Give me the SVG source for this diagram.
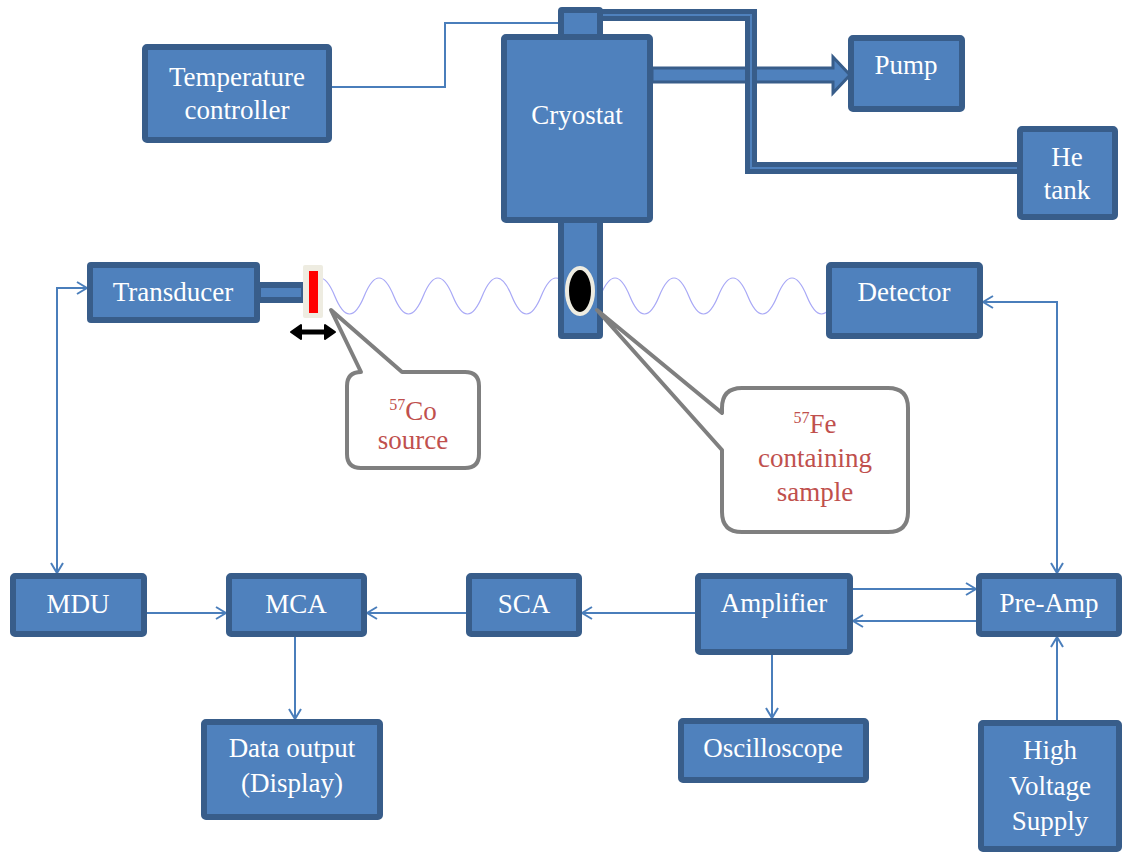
<svg xmlns="http://www.w3.org/2000/svg" width="1126" height="854" viewBox="0 0 1126 854">
<style>
.box{fill:#4F81BD;stroke:#385D8A;stroke-width:6;}
.lbl{font-family:"Liberation Serif","Times New Roman",serif;font-size:27px;fill:#FFFFFF;text-anchor:middle;}
.call{fill:#FFFFFF;stroke:#7F7F7F;stroke-width:4;stroke-linejoin:round;}
.ctxt{font-family:"Liberation Serif","Times New Roman",serif;font-size:27px;fill:#C0504D;text-anchor:middle;}
.con{fill:none;stroke:#4A7EBB;stroke-width:2;}
</style>
<defs>
<marker id="arr" markerUnits="userSpaceOnUse" viewBox="0 0 12 14" refX="11" refY="7" markerWidth="12" markerHeight="14" orient="auto-start-reverse">
<path d="M1,1 L11,7 L1,13" fill="none" stroke="#4A7EBB" stroke-width="2"/>
</marker>
</defs>
<rect width="1126" height="854" fill="#FFFFFF"/>

<!-- gamma wave -->
<path id="wave" d="M305.25,296 Q320,260 334.75,296 T364.25,296 T393.75,296 T423.25,296 T452.75,296 T482.25,296 T511.75,296 T541.25,296 T570.75,296 T600.25,296 T629.75,296 T659.25,296 T688.75,296 T718.25,296 T747.75,296 T777.25,296 T806.75,296 T836.25,296" fill="none" stroke="#A8A8F6" stroke-width="1.2"/>

<g id="connectors">
<path class="con" d="M332,87 H445 V23 H558" stroke-width="1.5"/>
<path class="con" d="M87,288 H57 V573" marker-start="url(#arr)" marker-end="url(#arr)"/>
<path class="con" d="M983,302 H1057 V573" marker-start="url(#arr)" marker-end="url(#arr)"/>
<path class="con" d="M147,613 H226" marker-end="url(#arr)"/>
<path class="con" d="M466,613 H367" marker-end="url(#arr)"/>
<path class="con" d="M695,613 H582" marker-end="url(#arr)"/>
<path class="con" d="M853,589 H976" marker-end="url(#arr)"/>
<path class="con" d="M976,621 H853" marker-end="url(#arr)"/>
<path class="con" d="M772,655 V718" marker-end="url(#arr)"/>
<path class="con" d="M1057,720 V637" marker-end="url(#arr)"/>
<path class="con" d="M295,637 V719" marker-end="url(#arr)"/>
<!-- pump block arrow -->
<polygon points="652,68 833,68 833,57 850,75 833,93 833,82 652,82" fill="#4F81BD" stroke="#385D8A" stroke-width="3" stroke-linejoin="miter"/>
<!-- He pipe -->
<path d="M600,15 H751 V168 H1018" fill="none" stroke="#385D8A" stroke-width="12"/>
<path d="M603,15 H751 V168 H1018" fill="none" stroke="#4F81BD" stroke-width="2"/>
</g>

<g id="cryostat">
<rect class="box" x="561" y="10" width="39" height="30" rx="1"/>
<rect class="box" x="561" y="215" width="39" height="121" rx="1"/>
<rect class="box" x="504" y="37" width="146" height="183" rx="2"/>
<text class="lbl" x="577" y="124">Cryostat</text>
<ellipse cx="580" cy="291" rx="13" ry="23" fill="#000000" stroke="#EEECE1" stroke-width="4"/>
</g>

<g id="temperature-controller">
<rect class="box" x="145" y="47" width="184" height="93" rx="2"/>
<text class="lbl" x="237" y="86">Temperature</text>
<text class="lbl" x="237" y="119">controller</text>
</g>

<g id="pump">
<rect class="box" x="851" y="38" width="111" height="71" rx="2"/>
<text class="lbl" x="906" y="74">Pump</text>
</g>

<g id="he-tank">
<rect class="box" x="1020" y="129" width="95" height="88" rx="2"/>
<text class="lbl" x="1067" y="166">He</text>
<text class="lbl" x="1067" y="199">tank</text>
</g>

<g id="transducer">
<rect x="258" y="285" width="46" height="15" fill="#4F81BD" stroke="#385D8A" stroke-width="6"/>
<rect class="box" x="90" y="265" width="167" height="55" rx="1"/>
<text class="lbl" x="173" y="301">Transducer</text>
</g>

<g id="source">
<rect x="303" y="265" width="20" height="53" rx="2" fill="#EEECE1"/>
<rect x="309" y="271" width="9" height="42" fill="#FF0000"/>
<line x1="298" y1="332" x2="328" y2="332" stroke="#000000" stroke-width="5"/>
<polygon points="291,332 301,325 301,339" fill="#000000" stroke="#000000" stroke-width="2" stroke-linejoin="round"/>
<polygon points="335,332 325,325 325,339" fill="#000000" stroke="#000000" stroke-width="2" stroke-linejoin="round"/>
</g>

<g id="detector">
<rect class="box" x="829" y="265" width="151" height="71" rx="2"/>
<text class="lbl" x="904" y="301">Detector</text>
</g>

<g id="mdu">
<rect class="box" x="13" y="576" width="131" height="58" rx="2"/>
<text class="lbl" x="78" y="613">MDU</text>
</g>

<g id="mca">
<rect class="box" x="229" y="576" width="135" height="58" rx="2"/>
<text class="lbl" x="296" y="613">MCA</text>
</g>

<g id="sca">
<rect class="box" x="469" y="576" width="110" height="58" rx="2"/>
<text class="lbl" x="524" y="613">SCA</text>
</g>

<g id="amplifier">
<rect class="box" x="698" y="576" width="152" height="76" rx="2"/>
<text class="lbl" x="774" y="612">Amplifier</text>
</g>

<g id="pre-amp">
<rect class="box" x="979" y="576" width="140" height="58" rx="2"/>
<text class="lbl" x="1049" y="612">Pre-Amp</text>
</g>

<g id="data-output">
<rect class="box" x="204" y="722" width="176" height="95" rx="2"/>
<text class="lbl" x="292" y="757">Data output</text>
<text class="lbl" x="292" y="792">(Display)</text>
</g>

<g id="oscilloscope">
<rect class="box" x="681" y="721" width="185" height="59" rx="2"/>
<text class="lbl" x="773" y="757">Oscilloscope</text>
</g>

<g id="high-voltage-supply">
<rect class="box" x="981" y="723" width="138" height="126" rx="2"/>
<text class="lbl" x="1050" y="759">High</text>
<text class="lbl" x="1050" y="795">Voltage</text>
<text class="lbl" x="1050" y="830">Supply</text>
</g>

<g id="co-callout">
<path class="call" d="M361,372 L331,310 L402,372 L465,372 Q479,372 479,386 L479,454 Q479,468 465,468 L361,468 Q347,468 347,454 L347,386 Q347,372 361,372 Z"/>
<text class="ctxt" x="413" y="420"><tspan font-size="16" dy="-10">57</tspan><tspan dy="10">Co</tspan></text>
<text class="ctxt" x="413" y="449">source</text>
</g>

<g id="fe-callout">
<path class="call" d="M742,388 L888,388 Q908,388 908,408 L908,512 Q908,532 888,532 L742,532 Q722,532 722,512 L722,450 L597,310 L722,413 L722,408 Q722,388 742,388 Z"/>
<text class="ctxt" x="815" y="433"><tspan font-size="16" dy="-10">57</tspan><tspan dy="10">Fe</tspan></text>
<text class="ctxt" x="815" y="467">containing</text>
<text class="ctxt" x="815" y="501">sample</text>
</g>
</svg>
